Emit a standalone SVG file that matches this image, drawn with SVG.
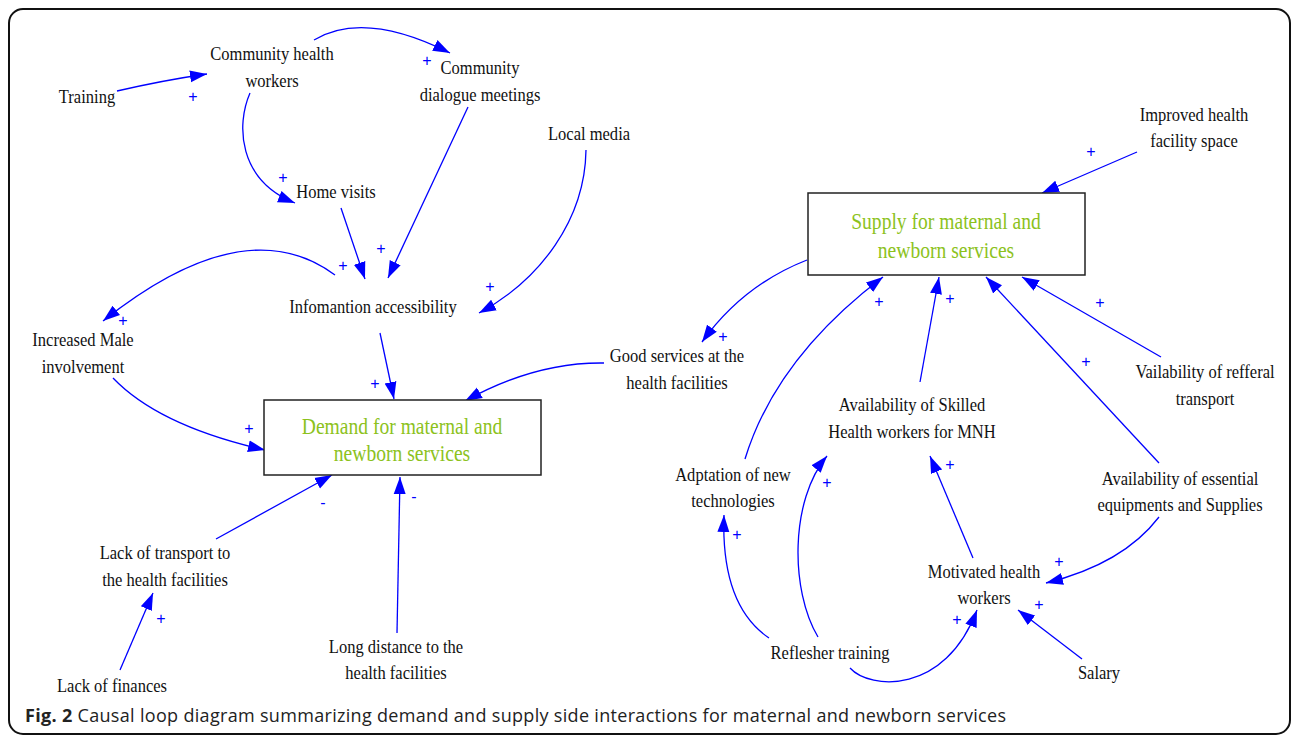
<svg xmlns="http://www.w3.org/2000/svg" width="1296" height="739" viewBox="0 0 1296 739">
<style>
.n{font-family:"Liberation Serif","Times New Roman",serif;font-size:19px;fill:#111;text-anchor:middle}
.g{font-family:"Liberation Serif","Times New Roman",serif;font-size:22.5px;fill:#8cc21c;text-anchor:middle}
.p{font-family:"Liberation Sans",Arial,sans-serif;font-size:16px;fill:#0000ff;text-anchor:middle}
.c path{fill:none;stroke:#0000ff;stroke-width:1.3;marker-end:url(#ah)}
.box{fill:#fff;stroke:#222;stroke-width:1.5}
.cap{font-family:"Open Sans","Noto Sans",sans-serif;font-size:18px;fill:#222}
</style>
<defs>
<marker id="ah" markerUnits="userSpaceOnUse" markerWidth="18" markerHeight="13" refX="17" refY="6.5" orient="auto">
<path d="M0,0.5 L17,6.5 L0,12.5 z" fill="#0000ff"/>
</marker>
</defs>
<rect x="0" y="0" width="1296" height="739" fill="#fff"/>
<rect x="9" y="9" width="1281" height="725" rx="14" ry="14" fill="none" stroke="#111" stroke-width="2"/>

<g id="connectors" class="c">
<path d="M117,91 Q165,80 207,74"/>
<path d="M314,40 Q364,10 450,53"/>
<path d="M250,93 C236,125 238,180 295,203"/>
<path d="M341,208 L365,279"/>
<path d="M468,107 L388,278"/>
<path d="M586,150 C585,220 540,280 479,313"/>
<path d="M335,275 Q245,208 103,321"/>
<path d="M380,333 L394,399"/>
<path d="M113,378 Q159,426 265,450"/>
<path d="M604,363 Q535,362 465,401"/>
<path d="M216,539 L332,475"/>
<path d="M397,633 L400,477"/>
<path d="M120,670 L153,593"/>
<path d="M1137,152 L1042,193"/>
<path d="M807,260 Q743,285 702,342"/>
<path d="M745,459 Q776,358 883,277"/>
<path d="M920,382 L939,277"/>
<path d="M1159,463 L986,277"/>
<path d="M1161,357 L1022,277"/>
<path d="M973,558 L930,456"/>
<path d="M818,637 C790,590 790,500 827,456"/>
<path d="M769,638 C735,615 722,570 724,515"/>
<path d="M850,668 C870,690 945,695 977,610"/>
<path d="M1082,659 L1018,610"/>
<path d="M1159,517 Q1123,564 1046,583"/>
</g>

<g id="polarities">
<text class="p" x="193" y="102">+</text>
<text class="p" x="427" y="66">+</text>
<text class="p" x="283" y="183">+</text>
<text class="p" x="381" y="254">+</text>
<text class="p" x="343" y="271">+</text>
<text class="p" x="490" y="292">+</text>
<text class="p" x="123" y="326">+</text>
<text class="p" x="375" y="389">+</text>
<text class="p" x="484" y="413">+</text>
<text class="p" x="249" y="434">+</text>
<text class="p" x="323" y="508">-</text>
<text class="p" x="414" y="502">-</text>
<text class="p" x="161" y="624">+</text>
<text class="p" x="1091" y="157">+</text>
<text class="p" x="723" y="342">+</text>
<text class="p" x="879" y="307">+</text>
<text class="p" x="950" y="304">+</text>
<text class="p" x="1086" y="367">+</text>
<text class="p" x="1100" y="308">+</text>
<text class="p" x="950" y="470">+</text>
<text class="p" x="827" y="488">+</text>
<text class="p" x="737" y="540">+</text>
<text class="p" x="957" y="625">+</text>
<text class="p" x="1039" y="610">+</text>
<text class="p" x="1059" y="567">+</text>
</g>

<g id="n-demand">
<rect class="box" x="264" y="400" width="277" height="75"/>
<g transform="translate(402 434) scale(0.87 1)"><text class="g" x="0" y="0">Demand for maternal and</text><text class="g" x="0" y="27">newborn services</text></g>
</g>
<g id="n-supply">
<rect class="box" x="808" y="193" width="277" height="82"/>
<g transform="translate(946 229) scale(0.87 1)"><text class="g" x="0" y="0">Supply for maternal and</text><text class="g" x="0" y="29">newborn services</text></g>
</g>

<g id="n-chw" transform="translate(272 60) scale(0.87 1)"><text class="n" x="0" y="0">Community health</text><text class="n" x="0" y="27">workers</text></g>
<g id="n-dialogue" transform="translate(480 74) scale(0.87 1)"><text class="n" x="0" y="0">Community</text><text class="n" x="0" y="27">dialogue meetings</text></g>
<g id="n-training" transform="translate(87 103) scale(0.87 1)"><text class="n" x="0" y="0">Training</text></g>
<g id="n-home" transform="translate(336 198) scale(0.87 1)"><text class="n" x="0" y="0">Home visits</text></g>
<g id="n-media" transform="translate(589 140) scale(0.87 1)"><text class="n" x="0" y="0">Local media</text></g>
<g id="n-info" transform="translate(373 313) scale(0.87 1)"><text class="n" x="0" y="0">Infomantion accessibility</text></g>
<g id="n-male" transform="translate(83 346) scale(0.87 1)"><text class="n" x="0" y="0">Increased Male</text><text class="n" x="0" y="27">involvement</text></g>
<g id="n-good" transform="translate(677 362) scale(0.87 1)"><text class="n" x="0" y="0">Good services at the</text><text class="n" x="0" y="27">health facilities</text></g>
<g id="n-transport" transform="translate(165 559) scale(0.87 1)"><text class="n" x="0" y="0">Lack of transport to</text><text class="n" x="0" y="27">the health facilities</text></g>
<g id="n-finances" transform="translate(112 692) scale(0.87 1)"><text class="n" x="0" y="0">Lack of finances</text></g>
<g id="n-distance" transform="translate(396 653) scale(0.87 1)"><text class="n" x="0" y="0">Long distance to the</text><text class="n" x="0" y="26">health facilities</text></g>
<g id="n-space" transform="translate(1194 121) scale(0.87 1)"><text class="n" x="0" y="0">Improved health</text><text class="n" x="0" y="26">facility space</text></g>
<g id="n-referral" transform="translate(1205 378) scale(0.87 1)"><text class="n" x="0" y="0">Vailability of refferal</text><text class="n" x="0" y="27">transport</text></g>
<g id="n-skilled" transform="translate(912 411) scale(0.87 1)"><text class="n" x="0" y="0">Availability of Skilled</text><text class="n" x="0" y="27">Health workers for MNH</text></g>
<g id="n-adapt" transform="translate(733 481) scale(0.87 1)"><text class="n" x="0" y="0">Adptation of new</text><text class="n" x="0" y="26">technologies</text></g>
<g id="n-essentials" transform="translate(1180 485) scale(0.87 1)"><text class="n" x="0" y="0">Availability of essential</text><text class="n" x="0" y="26">equipments and Supplies</text></g>
<g id="n-motivated" transform="translate(984 578) scale(0.87 1)"><text class="n" x="0" y="0">Motivated health</text><text class="n" x="0" y="26">workers</text></g>
<g id="n-reflesher" transform="translate(830 659) scale(0.87 1)"><text class="n" x="0" y="0">Reflesher training</text></g>
<g id="n-salary" transform="translate(1099 679) scale(0.87 1)"><text class="n" x="0" y="0">Salary</text></g>

<g id="caption">
<text class="cap" x="25" y="722" textLength="981" lengthAdjust="spacing"><tspan font-weight="bold">Fig. 2</tspan> Causal loop diagram summarizing demand and supply side interactions for maternal and newborn services</text>
</g>
</svg>
